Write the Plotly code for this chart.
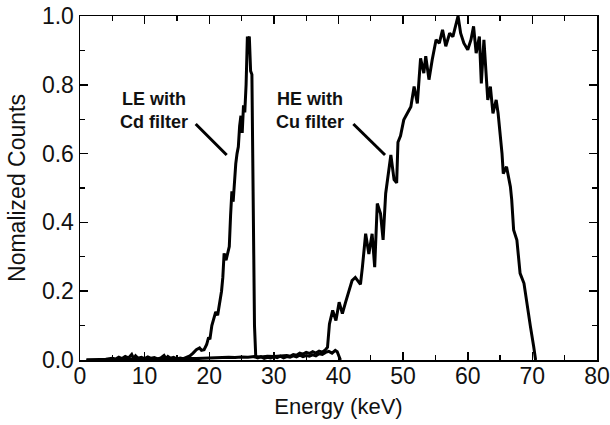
import plotly.graph_objects as go

# ---- data ----
le_energy = [1.0, 2.0, 3.0, 4.0, 5.0, 5.5, 6.0, 6.5, 7.0, 7.5, 8.0, 8.3, 8.6, 9.0, 9.5, 10.0,
             10.5, 11.0, 11.5, 12.0, 12.5, 13.0, 13.3, 13.6, 14.0, 14.5, 15.0, 15.5, 16.0,
             16.5, 17.0, 17.5, 18.0, 18.5, 18.8, 19.2, 19.6, 19.9, 20.1, 20.4, 20.7, 21.0,
             21.3, 21.6, 21.9, 22.1, 22.3, 22.6, 22.9, 23.1, 23.3, 23.5, 23.7, 23.9, 24.1,
             24.3, 24.5, 24.7, 24.9, 25.1, 25.3, 25.5, 25.7, 25.9, 26.0, 26.2, 26.4, 26.6,
             26.8, 27.0, 27.2, 27.5, 28.0, 28.5, 29.0, 29.5, 30.0, 30.5, 31.0, 31.5, 32.0,
             32.5, 33.0, 33.5, 34.0, 34.5, 35.0, 35.5, 36.0, 36.5, 37.0, 37.5, 38.0, 38.5,
             39.0, 39.5, 39.8, 40.1, 40.3]
le_counts = [0.0, 0.0, 0.0, 0.002, 0.005, 0.003, 0.008, 0.004, 0.010, 0.006, 0.016, 0.004,
             0.012, 0.005, 0.008, 0.004, 0.009, 0.005, 0.007, 0.003, 0.006, 0.013, 0.004,
             0.010, 0.005, 0.008, 0.003, 0.006, 0.004, 0.009, 0.012, 0.020, 0.030, 0.035,
             0.028, 0.030, 0.045, 0.066, 0.060, 0.100, 0.120, 0.140, 0.130, 0.165, 0.200,
             0.240, 0.310, 0.290, 0.310, 0.330, 0.420, 0.490, 0.460, 0.530, 0.570, 0.600,
             0.620, 0.680, 0.710, 0.660, 0.740, 0.720, 0.800, 0.940, 0.930, 0.940, 0.840,
             0.830, 0.450, 0.100, 0.008, 0.006, 0.010, 0.005, 0.008, 0.006, 0.009, 0.007,
             0.011, 0.006, 0.010, 0.008, 0.012, 0.009, 0.014, 0.010, 0.013, 0.011, 0.015,
             0.012, 0.018, 0.016, 0.022, 0.025, 0.020, 0.028, 0.024, 0.012, 0.0]

he_energy = [1.0, 2.0, 3.0, 4.0, 5.0, 6.0, 7.0, 8.0, 9.0, 10.0, 11.0, 12.0, 13.0, 14.0, 15.0,
             16.0, 17.0, 18.0, 19.0, 20.0, 21.0, 22.0, 23.0, 24.0, 25.0, 26.0, 27.0, 28.0,
             29.0, 30.0, 31.0, 32.0, 32.5, 33.0, 33.5, 34.0, 34.5, 35.0, 35.5, 36.0, 36.5,
             37.0, 37.5, 38.0, 38.3, 38.6, 39.1, 39.6, 40.1, 40.6, 41.1, 41.6, 42.1, 42.6,
             43.4, 43.7, 44.2, 44.7, 45.2, 45.6, 46.0, 46.5, 46.9, 47.3, 47.7, 48.1, 48.6,
             49.0, 49.2, 49.6, 50.1, 50.7, 51.2, 51.7, 52.2, 52.7, 53.2, 53.5, 54.0, 54.5,
             55.1, 55.6, 56.1, 56.6, 57.2, 57.7, 58.2, 58.5, 58.9, 59.4, 60.0, 60.5, 60.9,
             61.3, 61.8, 62.1, 62.5, 62.9, 63.1, 63.5, 63.9, 64.4, 64.7, 65.3, 65.5, 66.0,
             66.6, 66.8, 67.1, 67.6, 68.1, 68.7, 69.2, 69.7, 70.2, 70.5]
he_counts = [0.0, 0.0, 0.001, 0.0, 0.002, 0.001, 0.003, 0.002, 0.004, 0.002, 0.003, 0.002,
             0.004, 0.003, 0.002, 0.004, 0.003, 0.004, 0.005, 0.006, 0.007, 0.006, 0.008,
             0.007, 0.009, 0.008, 0.010, 0.009, 0.011, 0.010, 0.012, 0.013, 0.011, 0.016,
             0.014, 0.020, 0.017, 0.022, 0.019, 0.024, 0.020, 0.026, 0.023, 0.030, 0.037,
             0.105, 0.144, 0.115, 0.168, 0.135, 0.168, 0.202, 0.231, 0.240, 0.220, 0.270,
             0.367, 0.308, 0.367, 0.270, 0.455, 0.426, 0.349, 0.484, 0.542, 0.596, 0.524,
             0.515, 0.633, 0.652, 0.698, 0.717, 0.736, 0.795, 0.746, 0.877, 0.834, 0.883,
             0.815, 0.873, 0.931, 0.921, 0.960, 0.912, 0.950, 0.940, 0.980, 1.000, 0.950,
             0.921, 0.902, 0.931, 0.970, 0.892, 0.940, 0.804, 0.931, 0.814, 0.756, 0.795,
             0.717, 0.756, 0.717, 0.601, 0.542, 0.562, 0.504, 0.466, 0.378, 0.349, 0.252,
             0.223, 0.155, 0.097, 0.039, 0.0]

x_ticks = [0, 10, 20, 30, 40, 50, 60, 70, 80]
y_ticks = [0.0, 0.2, 0.4, 0.6, 0.8, 1.0]

FONT = "Liberation Sans, Arial, sans-serif"
TXT = "#111111"

fig = go.Figure()
fig.add_trace(go.Scatter(x=le_energy, y=le_counts, mode="lines",
                         line=dict(color="black", width=3), name="LE"))
fig.add_trace(go.Scatter(x=he_energy, y=he_counts, mode="lines",
                         line=dict(color="black", width=3), name="HE"))

axis_common = dict(showline=True, linecolor="black", linewidth=1.5, mirror="ticks",
                   ticks="inside", ticklen=8, tickwidth=1.5, tickcolor="black",
                   showgrid=False, zeroline=False, automargin=False,
                   tickfont=dict(family=FONT, size=23, color=TXT))

fig.update_xaxes(range=[0, 80], tickvals=x_ticks, ticktext=[str(v) for v in x_ticks],
                 minor=dict(ticks="inside", ticklen=5, dtick=5, tickwidth=1.2,
                            tickcolor="black", showgrid=False),
                 ticklabelstandoff=-5,
                 title=dict(text="Energy (keV)", font=dict(family=FONT, size=22, color=TXT),
                            standoff=10),
                 **axis_common)
fig.update_yaxes(range=[0, 1.0], tickvals=y_ticks, ticktext=[f"{v:.1f}" for v in y_ticks],
                 minor=dict(ticks="inside", ticklen=5, dtick=0.1, tickwidth=1.2,
                            tickcolor="black", showgrid=False),
                 title=dict(text="Nomalized Counts", font=dict(family=FONT, size=23, color=TXT),
                            standoff=10),
                 **axis_common)

ann_font = dict(family=FONT, size=18, color=TXT)
fig.add_annotation(x=11.45, y=0.724, xref="x", yref="y", showarrow=False,
                   text="<b>LE with<br>Cd filter</b>", font=ann_font, align="center")
fig.add_annotation(x=35.6, y=0.724, xref="x", yref="y", showarrow=False,
                   text="<b>HE with<br>Cu filter</b>", font=ann_font, align="center")
fig.add_shape(type="line", x0=17.9, y0=0.686, x1=22.7, y1=0.596, xref="x", yref="y",
              line=dict(color="black", width=3))
fig.add_shape(type="line", x0=42.3, y0=0.686, x1=47.2, y1=0.596, xref="x", yref="y",
              line=dict(color="black", width=3))

fig.update_layout(width=610, height=425, margin=dict(l=80, r=13, t=16, b=65),
                  paper_bgcolor="white", plot_bgcolor="white", showlegend=False)

fig.write_html("out.html", config={"displayModeBar": False, "staticPlot": True},
               post_script="document.body.style.margin='0px';document.body.style.overflow='hidden';")
